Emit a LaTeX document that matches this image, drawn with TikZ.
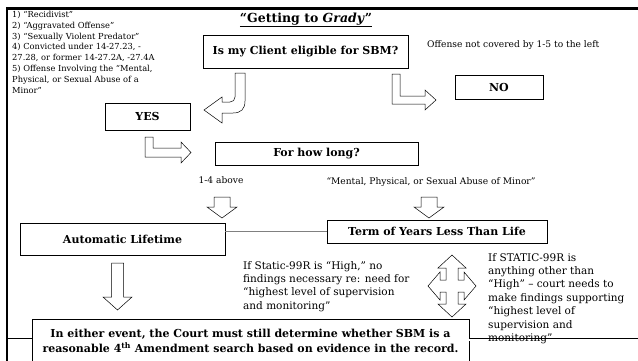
\documentclass[tikz,border=0pt]{standalone}
\usepackage{fontspec}
\setmainfont{DejaVu Serif}
\begin{document}
\begin{tikzpicture}[x=1pt,y=-1pt,
  box/.style={draw, fill=white, line width=0.6pt, inner sep=0pt, align=center,
              font=\bfseries\fontsize{11}{15}\selectfont},
  hollow/.style={draw, fill=white, line width=0.5pt, line join=miter},
  small/.style={inner sep=0pt, font=\fontsize{8.3}{10.8}\selectfont},
  label/.style={inner sep=0pt, font=\fontsize{9.1}{11}\selectfont},
  note/.style={inner sep=0pt, align=left, font=\fontsize{10.5}{13.4}\selectfont},
  rim/.style={line width=2.6pt, line join=miter},
  twin/.style={double, double distance=2pt, line width=0.7pt}
]
\useasboundingbox (0,0) rectangle (638,360);

% outer rim along the top and left
\draw[rim] (7,362) -- (7,8.5) -- (640,8.5);

% title and criteria list
\node[inner sep=0pt, font=\bfseries\fontsize{12.5}{14}\selectfont] (title) at (306,20)
  {\underline{“Getting to \textit{Grady}”}};
\node[small, anchor=north west, align=left] (crit) at (12,11) {%
1) “Recidivist”\\
2) “Aggravated Offense”\\
3) “Sexually Violent Predator”\\
4) Convicted under 14-27.23, -\\
27.28, or former 14-27.2A, -27.4A\\
5) Offense Involving the “Mental,\\
Physical, or Sexual Abuse of a\\
Minor”};

% decision boxes
\node[box, minimum width=205pt, minimum height=33pt] (q1) at (305.5,51.5) {Is my Client eligible for SBM?};
\node[label, anchor=west] (other) at (427,45) {Offense not covered by 1-5 to the left};
\node[box, minimum width=88pt, minimum height=24pt] (no) at (499,87) {NO};
\node[box, minimum width=85pt, minimum height=27pt] (yes) at (147.5,116.5) {YES};
\node[box, minimum width=203pt, minimum height=23pt] (long) at (316.5,153.5) {For how long?};

% bent block arrows
\draw[hollow] (235,73) -- (245,73) -- (245,101)
  .. controls (245,109) and (241,113) .. (233,113) -- (222,113) -- (222,123)
  -- (204,110) -- (222,97) -- (222,102) -- (230,102)
  .. controls (233,102) and (235,100) .. (235,97) -- cycle;
\draw[hollow] (392,74) -- (400,74) -- (400,96) -- (425,96) -- (425,90)
  -- (436,100) -- (425,110) -- (425,104) -- (392,104) -- cycle;
\draw[hollow] (145,137) -- (153,137) -- (153,148) -- (181,148) -- (181,142)
  -- (191,152.5) -- (181,163) -- (181,157) -- (145,157) -- cycle;

% branch labels and down arrows
\node[label] (four) at (221,180) {1-4 above};
\node[label] (abuse) at (431,182) {“Mental, Physical, or Sexual Abuse of Minor”};
\draw[hollow] (214,197) -- (230,197) -- (230,207) -- (237,207) -- (222,218)
  -- (207,207) -- (214,207) -- cycle;
\draw[hollow] (421,197) -- (437,197) -- (437,207) -- (444,207) -- (429,218)
  -- (414,207) -- (421,207) -- cycle;

% outcomes
\node[box, minimum width=205pt, minimum height=32pt] (auto) at (122.5,239) {Automatic Lifetime};
\node[box, minimum width=220pt, minimum height=23pt] (term) at (437,231.5) {Term of Years Less Than Life};
\draw[gray, line width=0.8pt] (auto.east |- term.west) -- (term.west);

\draw[hollow] (111.5,263) -- (123.5,263) -- (123.5,297) -- (132,297) -- (117.5,310)
  -- (103,297) -- (111.5,297) -- cycle;

% four-way arrow
\begin{scope}[shift={(452,286)}]
\draw[hollow] (0,-31) -- (14,-18) -- (6,-18) -- (6,-6) -- (12,-6) -- (12,-14)
  -- (24,0) -- (12,14) -- (12,6) -- (6,6) -- (6,18) -- (14,18) -- (0,31)
  -- (-14,18) -- (-6,18) -- (-6,6) -- (-12,6) -- (-12,14) -- (-24,0)
  -- (-12,-14) -- (-12,-6) -- (-6,-6) -- (-6,-18) -- (-14,-18) -- cycle;
\end{scope}

\node[note, anchor=north west] (high) at (243,261) {If Static-99R is “High,” no\\
findings necessary re: need for\\
“highest level of supervision\\
and monitoring”};

% double rule behind the closing box
\coordinate (tl) at (8,339.5);
\coordinate (tr) at (640,339.5);

\node[box, minimum width=437pt, minimum height=43pt] (final) at (250.5,340.5)
  {In either event, the Court must still determine whether SBM is a\\
   reasonable 4\textsuperscript{th} Amendment search based on evidence in the record.};
\draw[twin] (tl) -- (tl -| final.west);
\draw[twin] (final.east |- tr) -- (tr);

\node[note, anchor=north west] (nothigh) at (488,253) {If STATIC-99R is\\
anything other than\\
“High” – court needs to\\
make findings supporting\\
“highest level of\\
supervision and\\
monitoring”};
\end{tikzpicture}
\end{document}
